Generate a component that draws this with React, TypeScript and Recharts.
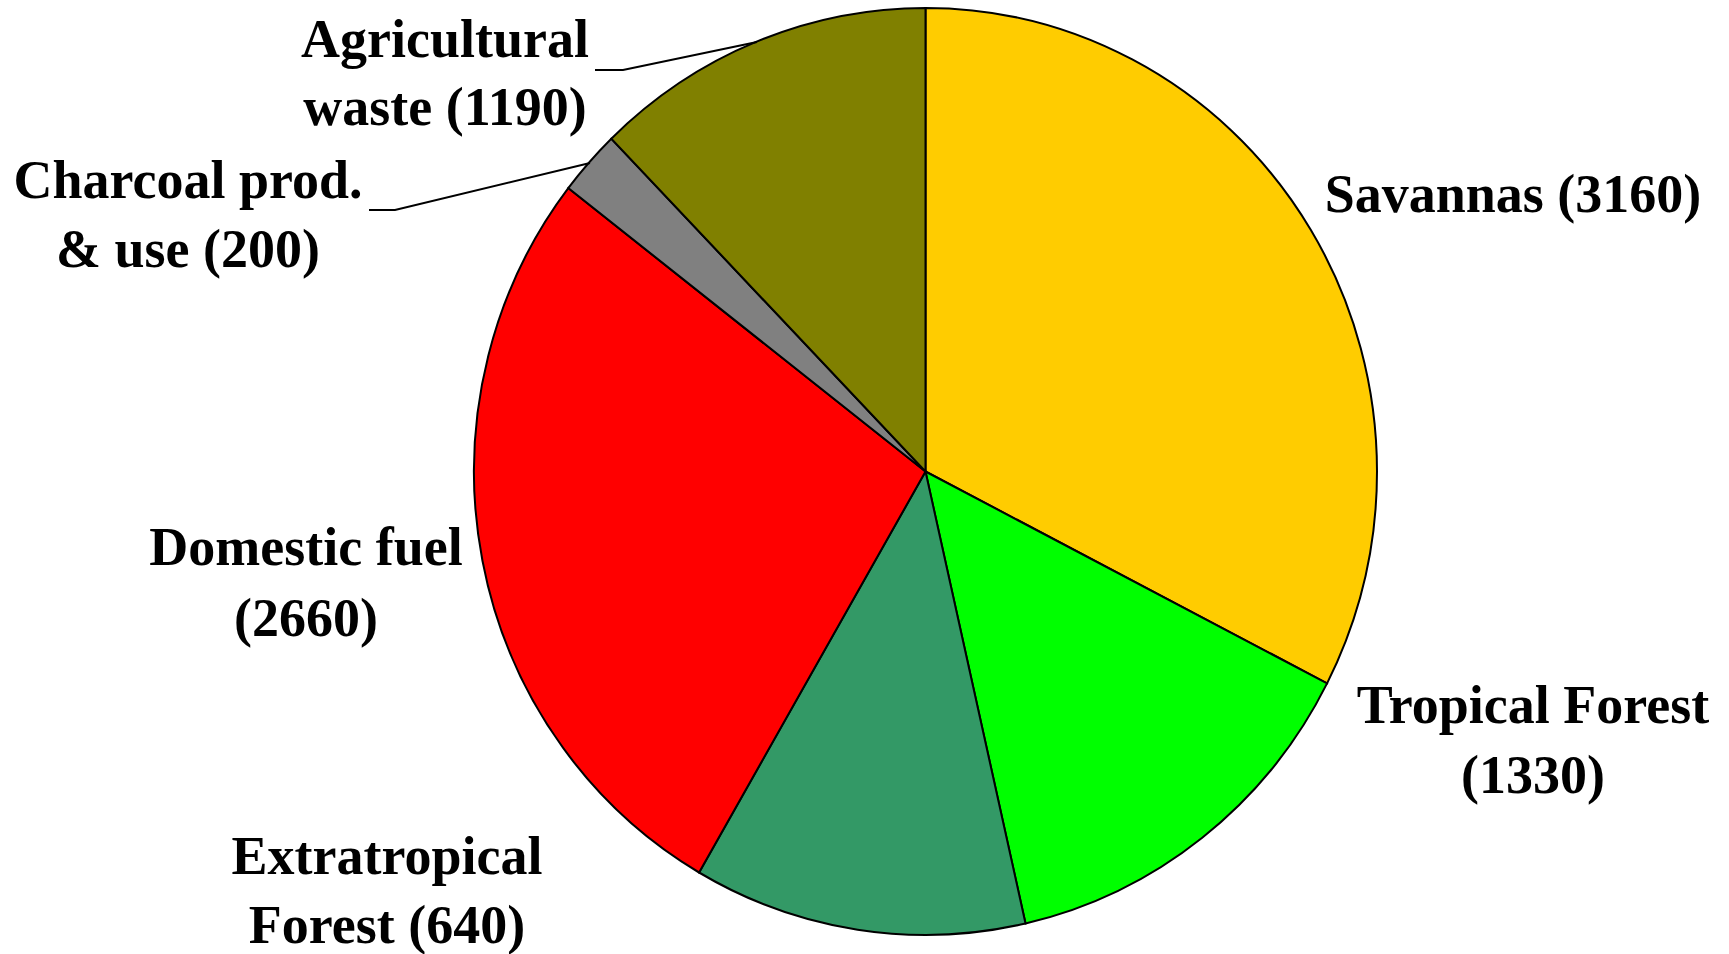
import React from 'react';
import { PieChart, Pie, Cell } from 'recharts';

// slice sizes (degrees of the circle)
const sources = ['Savannas', 'Tropical Forest', 'Extratropical Forest', 'Domestic fuel', 'Charcoal', 'Agricultural waste'];
const sliceShare = [117.2, 50.0, 42.9, 97.6, 8.2, 44.1];
const labelText = [
  ['Savannas (3160)'],
  ['Tropical Forest', '(1330)'],
  ['Extratropical', 'Forest (640)'],
  ['Domestic fuel', '(2660)'],
  ['Charcoal prod.', '& use (200)'],
  ['Agricultural', 'waste (1190)'],
];
const colors = ['#FFCC00', '#00FF00', '#339966', '#FF0000', '#808080', '#808000'];

const data = sources.map((name, i) => ({ name, value: sliceShare[i] }));

// the original pie is a little taller than wide, so the chart is stretched
// vertically around its centre; page y positions below are mapped back
const CY = 471.5;
const STRETCH = 463.5 / 451.5;
const toSvgY = (y: number) => CY + (y - CY) / STRETCH;

// where each label sits on the page: centre x, baseline y of each line
const labelPos = [
  { x: 1513, y: [212] },
  { x: 1533, y: [723, 793] },
  { x: 387, y: [874, 943] },
  { x: 306, y: [565, 636] },
  { x: 188, y: [198, 267] },
  { x: 445, y: [57, 125] },
];
const leaders: Record<number, number[][]> = {
  4: [[369, 210], [395, 210], [590, 163]],
  5: [[595, 70], [623, 70], [757, 42]],
};

const renderLabel = (props: any) => {
  const i = sources.indexOf(props.name);
  const pos = labelPos[i];
  return (
    <text
      key={'lbl' + i}
      textAnchor="middle"
      fontFamily="'Liberation Serif', 'Times New Roman', serif"
      fontWeight="bold"
      fontSize={54}
      fill="#000"
    >
      {labelText[i].map((line, j) => (
        <tspan key={j} x={pos.x} y={toSvgY(pos.y[j])}>{line}</tspan>
      ))}
    </text>
  );
};

const renderLine = (props: any) => {
  const i = sources.indexOf(props.name);
  if (!leaders[i]) return <g key={'ln' + i} />;
  const pts = leaders[i].map(([x, y]) => `${x},${toSvgY(y)}`).join(' ');
  return <polyline key={'ln' + i} points={pts} fill="none" stroke="#000" strokeWidth={2} />;
};

export default function App() {
  return (
    <div style={{ position: 'absolute', left: 0, top: 0, width: 1729, height: 954, overflow: 'hidden', background: '#fff' }}>
      <div style={{ transform: `scaleY(${STRETCH})`, transformOrigin: `0 ${CY}px` }}>
        <PieChart width={1729} height={954} margin={{ top: 0, right: 0, bottom: 0, left: 0 }}>
          <Pie
            data={data}
            dataKey="value"
            nameKey="name"
            cx={925.5}
            cy={CY}
            outerRadius={451.5}
            innerRadius={0}
            startAngle={90}
            endAngle={-270}
            paddingAngle={0}
            stroke="#000"
            strokeWidth={2}
            label={renderLabel}
            labelLine={renderLine}
            isAnimationActive={false}
          >
            {data.map((d, i) => (
              <Cell key={d.name} fill={colors[i]} />
            ))}
          </Pie>
        </PieChart>
      </div>
    </div>
  );
}
